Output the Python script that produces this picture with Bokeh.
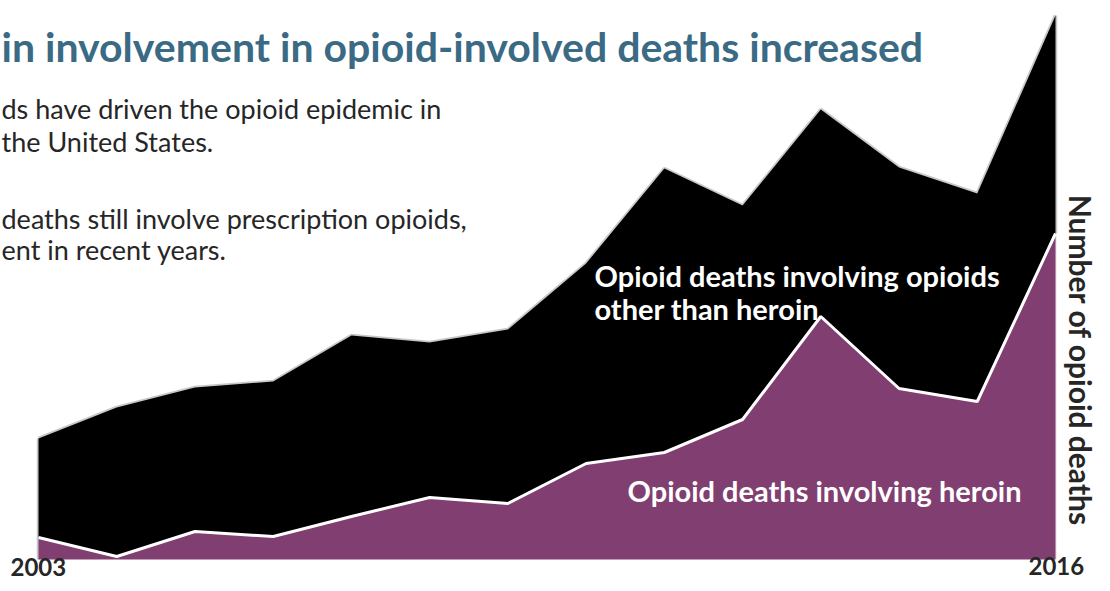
import math
from bokeh.plotting import figure
from bokeh.models import Range1d, Label
from bokeh.embed import file_html
from bokeh.resources import INLINE

# ---- data (arbitrary units) ----
years = [2003, 2004, 2005, 2006, 2007, 2008, 2009, 2010, 2011, 2012, 2013, 2014, 2015, 2016]
heroin = [22, 3, 28, 23, 43, 62, 56, 96, 107, 140, 243, 171, 158, 326]
other_opioids = [99, 149, 144, 155, 181, 155, 174, 200, 284, 214, 207, 221, 208, 218]
total = [h + o for h, o in zip(heroin, other_opioids)]

title_text = "in involvement in opioid-involved deaths increased"
body_lines = [
    "ds have driven the opioid epidemic in",
    " the United States.",
    "deaths still involve prescription opioids,",
    "ent in recent years.",
]
label_other = ["Opioid deaths involving opioids", "other than heroin"]
label_heroin = "Opioid deaths involving heroin"
y_axis_label = "Number of opioid deaths"
start_label, end_label = "2003", "2016"

W, H = 1102, 583
PX_PER_YEAR = (1055 - 38) / 13.0
x0 = 2003 - 38 / PX_PER_YEAR
x1 = x0 + W / PX_PER_YEAR
base_canvas = 559
y0 = -(H - base_canvas)
y1 = base_canvas

p = figure(width=W, height=H, output_backend="svg", toolbar_location=None,
           x_range=Range1d(x0, x1), y_range=Range1d(y0, y1),
           min_border=0, min_border_left=0, min_border_right=0,
           min_border_top=0, min_border_bottom=0)
p.axis.visible = False
p.grid.visible = False
p.outline_line_color = None
p.background_fill_color = "white"
p.border_fill_color = "white"

zeros = [0] * len(years)
# soft grey halo around the black area
p.line(years, total, line_color="#c8c8c8", line_width=3.5)
p.segment(x0=[years[0], years[-1]], y0=[0, heroin[-1]], x1=[years[0], years[-1]],
          y1=[total[0], total[-1]], line_color="#c8c8c8", line_width=3.5)
p.segment(x0=[years[-1]], y0=[0], x1=[years[-1]], y1=[heroin[-1]], line_color="#e6dce4", line_width=2)

p.varea(x=years, y1=heroin, y2=total, fill_color="black")
p.varea(x=years, y1=zeros, y2=heroin, fill_color="#813e70")
p.line(years, heroin, line_color="white", line_width=3)


def add_label(text, px, py, size, color, font, style="normal", align="left", angle=0.0,
              baseline="alphabetic", shift=True):
    yy = py - 0.35 * size if shift else py
    p.add_layout(Label(x=px, y=H - yy, x_units="screen", y_units="screen",
                       text=text, text_font_size=f"{size}px", text_color=color,
                       text_font=font, text_font_style=style, text_align=align,
                       text_baseline=baseline, angle=angle))


add_label(title_text, 1, 60, 41, "#3a6a84", "Lato", "bold")
body_y = [117, 150, 227, 258]
for t, yy in zip(body_lines, body_y):
    add_label(t, 1, yy, 27, "#262626", "Lato")

add_label(label_other[0], 594, 285, 29, "white", "Lato", "bold")
add_label(label_other[1], 594, 318, 29, "white", "Lato", "bold")
add_label(label_heroin, 627, 500, 29, "white", "Lato", "bold")

add_label(start_label, 10, 575, 24, "#262626", "Lato", "bold")
add_label(end_label, 1028, 574, 24, "#262626", "Lato", "bold")
add_label(y_axis_label, 1080, 360, 30, "#262626", "Lato", "bold", align="center",
          angle=-math.pi / 2, baseline="middle", shift=False)

open("out.html", "w").write(file_html(p, INLINE))
